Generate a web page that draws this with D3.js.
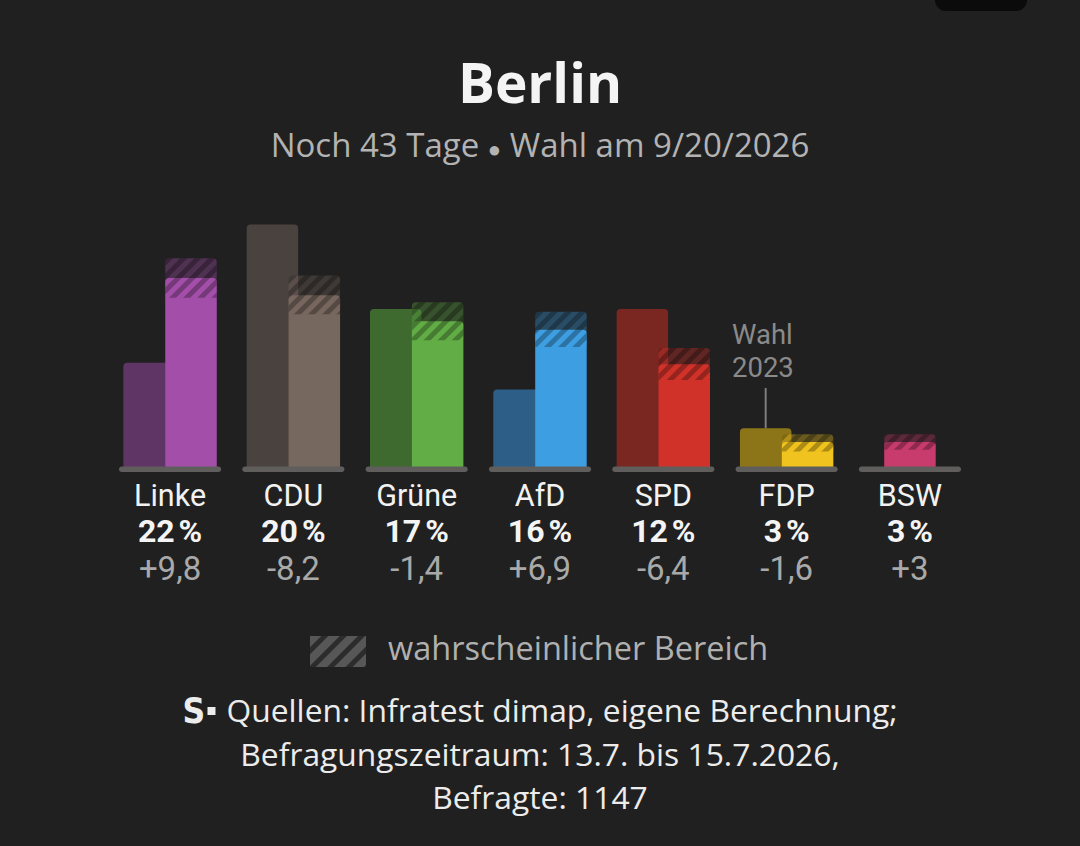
<!DOCTYPE html>
<html><head><meta charset="utf-8">
<script src="https://cdn.jsdelivr.net/npm/d3@7/dist/d3.min.js"></script>
<style>
html,body{margin:0;padding:0;background:#202020;}
svg{display:block;}
</style></head><body>
<svg id="chart" width="1080" height="846"></svg>
<script>
// ---- data ----
const parties = ["Linke","CDU","Grüne","AfD","SPD","FDP","BSW"];
const values = [22, 20, 17, 16, 12, 3, 3];
const previous = [12.2, 28.2, 18.4, 9.1, 18.4, 4.6, null];
const rangeLow = [19.7, 17.8, 14.8, 14.0, 10.2, 1.9, 2.1];
const rangeHigh = [24.3, 22.3, 19.2, 18.1, 13.9, 3.9, 3.9];
const changes = ["+9,8", "-8,2", "-1,4", "+6,9", "-6,4", "-1,6", "+3"];
const colorsNew = ["#a34fa9", "#76675f", "#62ad45", "#3e9ee2", "#d0322a", "#f0c31f", "#c73b6d"];
const colorsOld = ["#5f3566", "#4a423f", "#3e6a2f", "#2d5e87", "#7a2621", "#8c7418", null];
const title = "Berlin";
const subtitle = ["Noch 43 Tage", "Wahl am 9/20/2026"];
const annotation = ["Wahl", "2023"];
const legendLabel = "wahrscheinlicher Bereich";
const sourceLines = ["Quellen: Infratest dimap, eigene Berechnung;", "Befragungszeitraum: 13.7. bis 15.7.2026,", "Befragte: 1147"];

const FONT = "'Open Sans','Noto Sans',sans-serif";
const FONT2 = "Roboto,'Open Sans',sans-serif";
const svg = d3.select("#chart");

svg.append("rect").attr("width",1080).attr("height",846).attr("fill","#202020");
// top device element
svg.append("rect").attr("x",935).attr("y",-20).attr("width",92).attr("height",31).attr("rx",11).attr("fill","#0b0b0b");

const defs = svg.append("defs");
const pat = defs.append("pattern").attr("id","stripes").attr("patternUnits","userSpaceOnUse")
  .attr("width",10).attr("height",10).attr("patternTransform","rotate(45)");
pat.append("rect").attr("x",0).attr("y",0).attr("width",5).attr("height",10).attr("fill","#000");
const pat2 = defs.append("pattern").attr("id","legendStripes").attr("patternUnits","userSpaceOnUse")
  .attr("width",13).attr("height",13).attr("patternTransform","translate(310,636) rotate(45)");
pat2.append("rect").attr("width",13).attr("height",13).attr("fill","#2c2c2c");
pat2.append("rect").attr("x",0).attr("width",8).attr("height",13).attr("fill","#575757");

// ---- scales ----
const x = d3.scaleBand().domain(parties).range([108.4, 971.6]);
const y = d3.scaleLinear().domain([0, 22]).range([468, 278]);

function topRounded(x0, y0, w, h, r) {
  r = Math.min(r, h, w/2);
  return `M${x0},${y0+h}V${y0+r}Q${x0},${y0} ${x0+r},${y0}H${x0+w-r}Q${x0+w},${y0} ${x0+w},${y0+r}V${y0+h}Z`;
}

const BW = 51.5;
const g = svg.append("g");
parties.forEach((p, i) => {
  const c = x(p) + x.bandwidth()/2;
  const hasOld = previous[i] != null;
  const xNew = hasOld ? c - 4.8 : c - BW/2;
  if (hasOld) {
    g.append("path").attr("d", topRounded(c - 46.7, y(previous[i]), BW, y(0) - y(previous[i]), 4))
      .attr("fill", colorsOld[i]);
  }
  g.append("path").attr("d", topRounded(xNew, y(values[i]), BW, y(0) - y(values[i]), 4))
    .attr("fill", colorsNew[i]);
  // probable range
  const hy = y(rangeHigh[i]), hh = y(rangeLow[i]) - y(rangeHigh[i]);
  g.append("path").attr("d", topRounded(xNew, hy, BW, hh, 4))
    .attr("fill", colorsNew[i]).attr("fill-opacity", 0.36);
  g.append("path").attr("d", topRounded(xNew, hy, BW, hh, 4))
    .attr("fill", "url(#stripes)").attr("opacity", 0.28);
  // baseline
  g.append("rect").attr("x", c - 51).attr("y", 466.5).attr("width", 102).attr("height", 5.5)
    .attr("rx", 2.75).attr("fill", "#5f5e5d");
  // labels
  g.append("text").attr("x", c).attr("y", 506).attr("text-anchor","middle")
    .attr("font-family", FONT2).attr("font-size", 30.5).attr("fill", "#f2f2f2").text(p);
  g.append("text").attr("x", c).attr("y", 542).attr("text-anchor","middle")
    .attr("font-family", FONT2).attr("font-size", 32).attr("font-weight", 700).attr("fill", "#f4f4f4")
    .text(values[i] + "\u202F%");
  g.append("text").attr("x", c).attr("y", 580).attr("text-anchor","middle")
    .attr("font-family", FONT2).attr("font-size", 33).attr("fill", "#a9a9a9").text(changes[i]);
});

// annotation "Wahl 2023" for FDP old bar
const fi = parties.indexOf("FDP");
const fc = x("FDP") + x.bandwidth()/2 - 46.7 + BW/2;
svg.append("line").attr("x1", fc).attr("x2", fc).attr("y1", 388).attr("y2", y(previous[fi]))
  .attr("stroke", "#7d7d7d").attr("stroke-width", 2);
annotation.forEach((t, k) => {
  svg.append("text").attr("x", 732).attr("y", 344 + k*33).attr("font-family", FONT2)
    .attr("font-size", 27.5).attr("fill", "#8a8a8a").text(t);
});

// title
svg.append("text").attr("x", 540).attr("y", 103).attr("text-anchor","middle")
  .attr("font-family", FONT).attr("font-size", 55).attr("font-weight", 700).attr("fill", "#f4f4f4").text(title);
const sub = svg.append("text").attr("x", 540).attr("y", 157).attr("text-anchor","middle")
  .attr("font-family", FONT).attr("font-size", 33).attr("fill", "#b3b3b3");
sub.append("tspan").text(subtitle[0] + " ");
sub.append("tspan").attr("font-size", 22).text("\u25CF");
sub.append("tspan").text(" " + subtitle[1]);

// legend
svg.append("rect").attr("x", 310).attr("y", 636).attr("width", 56).attr("height", 31)
  .attr("fill", "url(#legendStripes)");
svg.append("text").attr("x", 388).attr("y", 660).attr("font-family", FONT).attr("font-size", 32.5)
  .attr("fill", "#b0b0b0").text(legendLabel);

// source
const SRC = 31.8;
const s1 = svg.append("text").attr("y", 722).attr("font-family", FONT).attr("font-size", SRC)
  .attr("fill", "#ececec").text(sourceLines[0]);
const w1 = s1.node().getComputedTextLength();
const totalW = w1 + 44;
const left = 540 - totalW/2;
s1.attr("x", left + 44);
svg.append("text").attr("x", left).attr("y", 723).attr("font-family", "'DejaVu Sans Condensed','DejaVu Sans',sans-serif")
  .attr("font-weight", 700).attr("font-size", 35).attr("fill", "#ececec").text("S");
svg.append("rect").attr("x", left + 25).attr("y", 707).attr("width", 8).attr("height", 8).attr("fill", "#ececec");
sourceLines.slice(1).forEach((t, k) => {
  svg.append("text").attr("x", 540).attr("y", 765.5 + k*43.5).attr("text-anchor","middle")
    .attr("font-family", FONT).attr("font-size", SRC).attr("fill", "#ececec").text(t);
});
</script>
</body></html>
